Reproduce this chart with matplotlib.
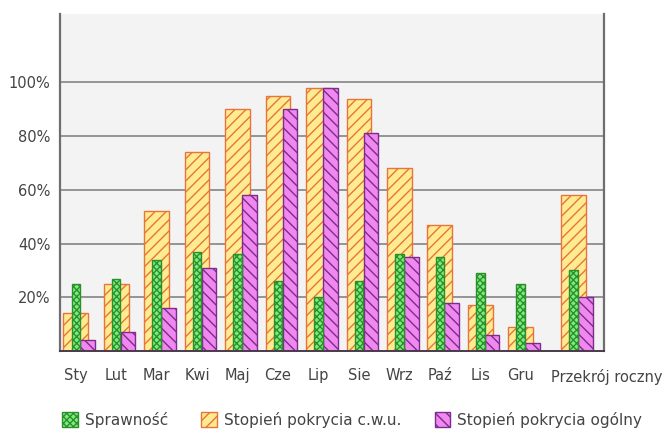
import matplotlib
matplotlib.use("Agg")
import matplotlib.pyplot as plt
from matplotlib.patches import Patch
import numpy as np

# Monthly solar system figures (percent)
months = ["Sty", "Lut", "Mar", "Kwi", "Maj", "Cze", "Lip", "Sie", "Wrz", "Paź", "Lis", "Gru"]
annual_label = "Przekrój roczny"
sprawnosc = [25, 27, 34, 37, 36, 26, 20, 26, 36, 35, 29, 25, 30]
pokrycie_cwu = [14, 25, 52, 74, 90, 95, 98, 94, 68, 47, 17, 9, 58]
pokrycie_ogolne = [4, 7, 16, 31, 58, 90, 98, 81, 35, 18, 6, 3, 20]
y_ticks = [20, 40, 60, 80, 100]

plt.rcParams["font.family"] = ["DejaVu Sans"]
plt.rcParams["hatch.linewidth"] = 1.0

fig = plt.figure(figsize=(6.67, 4.34), dpi=100)
ax = fig.add_axes([0.090, 0.191, 0.815, 0.777])
ax.set_facecolor("#f3f3f3")

# group positions: twelve months, then the annual summary set slightly apart
x = np.arange(len(months) + 1, dtype=float)
x[-1] += 0.30

w_cwu, w_spr, w_og = 0.61, 0.21, 0.36

c_spr, e_spr = "#7aee7a", "#2e8e2e"
c_cwu, e_cwu = "#ffec90", "#e8743c"
c_og, e_og = "#f088f0", "#7c2c8c"

ax.bar(x, pokrycie_cwu, width=w_cwu, color=c_cwu, edgecolor=e_cwu,
       hatch="///", linewidth=1.0, zorder=3)
ax.bar(x + 0.115, pokrycie_ogolne, width=w_og, align="edge", color=c_og,
       edgecolor=e_og, hatch="\\\\\\", linewidth=1.0, zorder=4)
ax.bar(x, sprawnosc, width=w_spr, color=c_spr, edgecolor=e_spr,
       hatch="xxxxx", linewidth=1.0, zorder=5)

ax.set_xlim(-0.39, 13.05)
ax.set_ylim(0, 125.5)

ax.set_yticks(y_ticks)
ax.set_yticklabels([f"{v}%" for v in y_ticks])
ax.yaxis.grid(True, color="#8c8c8c", linewidth=1.3, zorder=1)
ax.set_axisbelow(True)

ax.set_xticks(x[:-1])
ax.set_xticklabels(months)
ax.text(x[-1] + 0.83, -0.078, annual_label, transform=ax.get_xaxis_transform(),
        ha="center", va="center", fontsize=10.5, color="#444444")

ax.tick_params(axis="both", length=0, labelsize=10.5, labelcolor="#444444")
ax.tick_params(axis="x", pad=12)
ax.tick_params(axis="y", pad=7)

for side in ("left", "right"):
    ax.spines[side].set_color("#6e6e6e")
    ax.spines[side].set_linewidth(1.6)
ax.spines["top"].set_visible(False)
ax.spines["bottom"].set_color("#4a3a4a")
ax.spines["bottom"].set_linewidth(1.4)
ax.spines["bottom"].set_zorder(6)

handles = [
    Patch(facecolor=c_spr, edgecolor=e_spr, hatch="xxxxx", label="Sprawność"),
    Patch(facecolor=c_cwu, edgecolor=e_cwu, hatch="///", label="Stopień pokrycia c.w.u."),
    Patch(facecolor=c_og, edgecolor=e_og, hatch="\\\\\\", label="Stopień pokrycia ogólny"),
]
leg = fig.legend(handles=handles, loc="center", bbox_to_anchor=(352 / 667, 1 - 420 / 434),
                 ncol=3, frameon=False, fontsize=11, handlelength=1.0, handleheight=1.1,
                 handletextpad=0.45, columnspacing=2.2)
for t in leg.get_texts():
    t.set_color("#444444")

fig.savefig("out.png", dpi=100, facecolor="white")
